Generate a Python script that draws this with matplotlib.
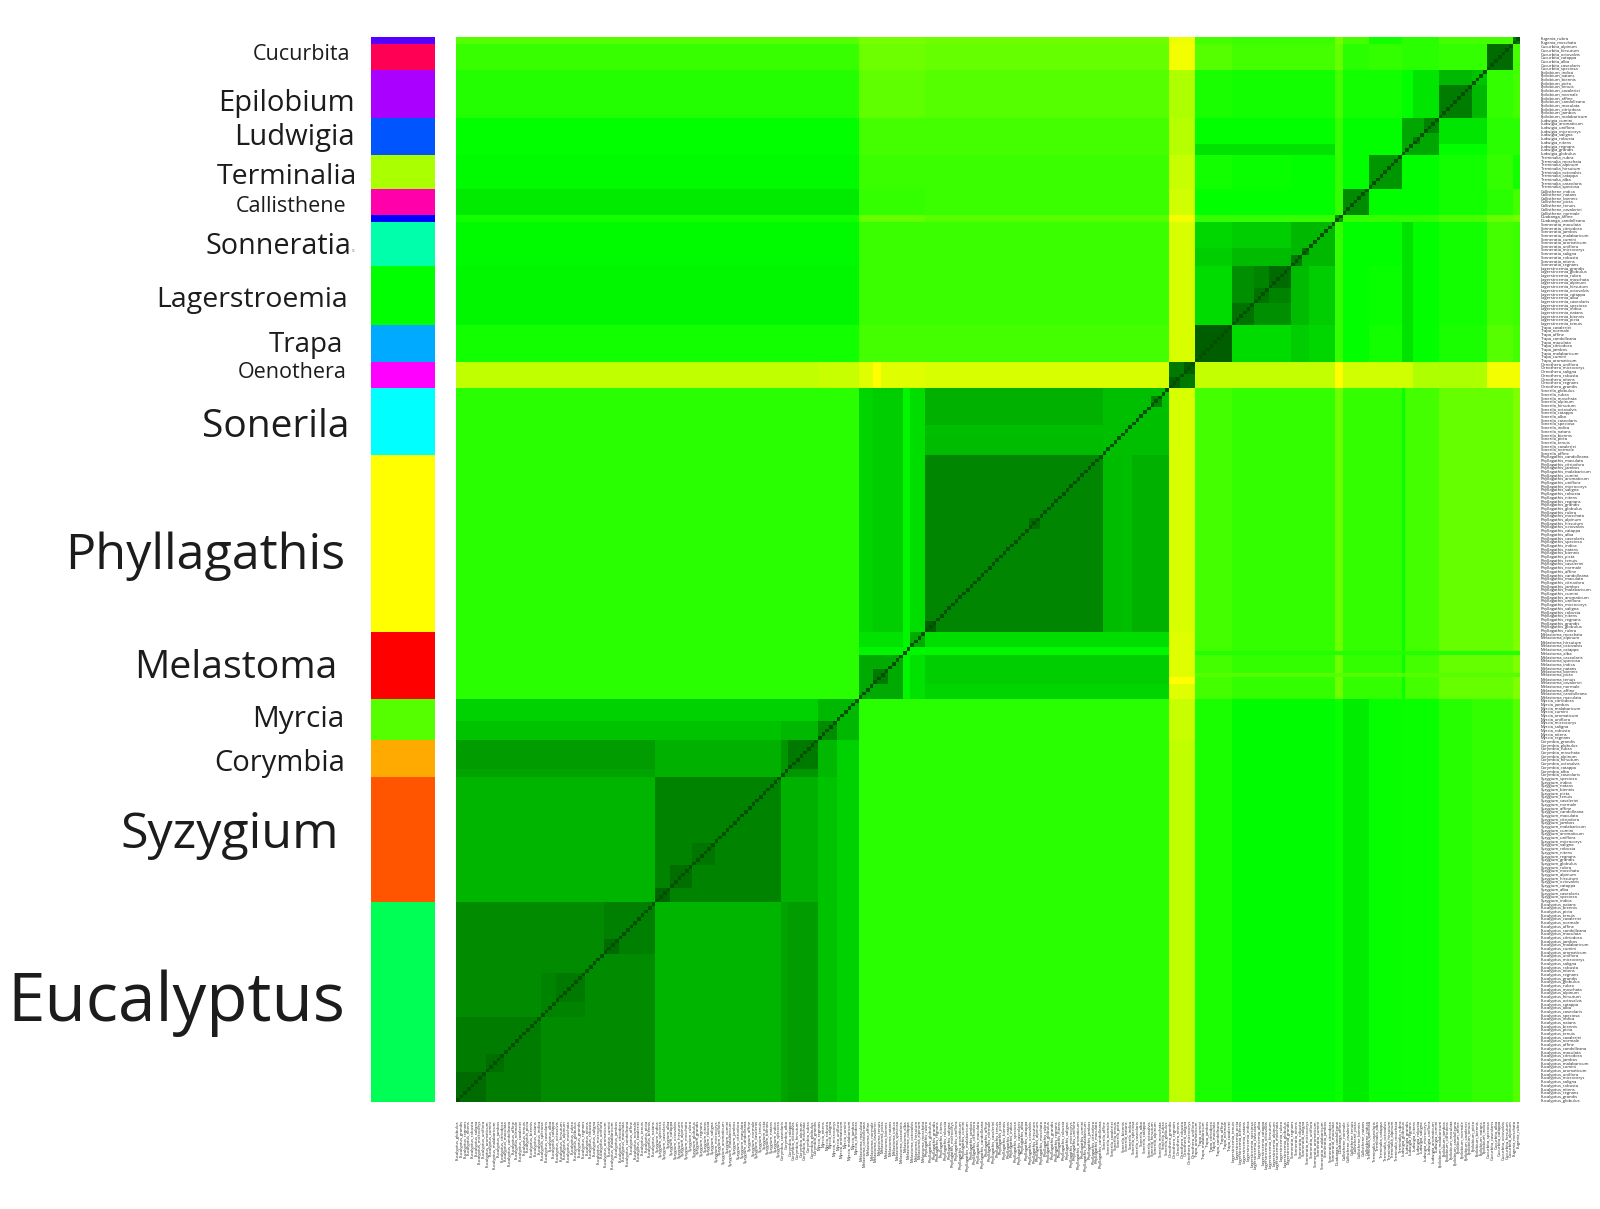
import numpy as np
import matplotlib
matplotlib.use('Agg')
import matplotlib.pyplot as plt
from matplotlib.colors import LinearSegmentedColormap

W = 1600
H = 1209

# clades from the bottom left corner up the diagonal
genera = ['Eucalyptus', 'Syzygium', 'Corymbia', 'Myrcia', 'Melastoma', 'Phyllagathis',
          'Sonerila', 'Oenothera', 'Trapa', 'Lagerstroemia', 'Sonneratia', 'Duabanga',
          'Callisthene', 'Terminalia', 'Ludwigia', 'Epilobium', 'Cucurbita', 'Eugenia']
sizes = [54, 34, 10, 11, 18, 48, 18, 7, 10, 16, 12, 2, 7, 9, 10, 13, 7, 2]
bar_colors = ['#00ff55', '#ff5500', '#ffaa00', '#55ff00', '#ff0000', '#ffff00',
              '#00ffff', '#ff00ff', '#00aaff', '#00ff00', '#00ffaa', '#0000ff',
              '#ff00aa', '#aaff00', '#0055ff', '#aa00ff', '#ff0055', '#5500ff']
epithets = ['globulus', 'grandis', 'regnans', 'nitens', 'robusta', 'saligna',
            'microcorys', 'uniflora', 'aromaticum', 'cumini', 'malabaricum', 'jambos',
            'citriodora', 'maculata', 'candolleana', 'affine', 'normale', 'cavaleriei',
            'tenuis', 'picta', 'biennis', 'natans', 'indica', 'speciosa',
            'caseolaris', 'alba', 'catappa', 'octovalvis', 'hirsutum', 'alpinum',
            'moschata', 'rubra']

# similarity between clades, lower triangle, 0 dark green .. .5 green .. 1 yellow
clade_table = [
    [.17],
    [.29, .15],
    [.22, .28, .20],
    [.33, .33, .30, .30],
    [.55, .55, .55, .55, .26],
    [.55, .55, .55, .55, .39, .16],
    [.55, .55, .55, .55, .39, .28, .32],
    [.84, .84, .84, .86, .92, .90, .90, .12],
    [.52, .52, .52, .52, .58, .58, .58, .90, .04],
    [.48, .48, .48, .48, .57, .57, .57, .90, .40, .15],
    [.49, .49, .49, .49, .57, .57, .57, .90, .38, .33, .30],
    [.52, .52, .52, .52, .62, .60, .60, .97, .56, .56, .56, .20],
    [.445, .445, .445, .445, .56, .57, .57, .88, .50, .50, .50, .56, .17],
    [.49, .49, .49, .49, .57, .57, .57, .86, .52, .51, .50, .56, .50, .20],
    [.50, .50, .50, .50, .58, .58, .58, .82, .50, .50, .50, .56, .50, .50, .25],
    [.54, .54, .54, .54, .61, .60, .60, .80, .53, .52, .52, .58, .52, .52, .43, .33],
    [.565, .565, .565, .565, .64, .62, .62, .97, .60, .58, .58, .62, .55, .56, .55, .56, .08],
    [.60, .60, .60, .60, .66, .64, .64, .95, .58, .57, .57, .65, .58, .60, .55, .58, .58, .12],
]

# finer blocks read along the diagonal: row from, row to, col from, col to, value
detail_blocks = [
    (0, 23, 0, 23, .13), (0, 8, 0, 8, .08), (8, 13, 8, 13, .09),
    (23, 35, 23, 35, .15), (27, 35, 27, 35, .12),
    (40, 54, 40, 54, .14), (40, 44, 40, 44, .08),
    (54, 58, 54, 58, .06), (58, 64, 58, 64, .09), (64, 70, 64, 70, .11),
    (88, 90, 0, 54, .24), (90, 98, 90, 98, .12),
    (98, 103, 98, 103, .17), (103, 109, 0, 98, .37), (103, 109, 103, 109, .30),
    (109, 121, 109, 121, .26), (113, 117, 113, 117, .12),
    (127, 193, 109, 121, .36), (109, 113, 127, 193, .38),
    (121, 123, 109, 193, .48), (123, 127, 127, 193, .41), (123, 127, 109, 121, .42),
    (127, 130, 127, 130, .05), (155, 158, 155, 158, .08), (175, 180, 127, 175, .31),
    (180, 183, 127, 175, .32), (183, 193, 127, 175, .28), (188, 191, 188, 191, .15),
    (193, 196, 193, 196, .05), (197, 200, 197, 200, .05), (113, 115, 193, 200, 1.0),
    (200, 210, 226, 229, .33), (200, 210, 229, 238, .44),
    (210, 216, 210, 216, .10), (216, 220, 216, 220, .10), (220, 226, 220, 226, .08),
    (210, 216, 216, 226, .18), (226, 229, 226, 229, .12), (229, 231, 229, 231, .10),
    (231, 238, 210, 226, .36), (226, 231, 210, 226, .31),
    (231, 238, 200, 210, .39), (226, 231, 200, 210, .36),
    (256, 259, 200, 238, .42), (259, 261, 259, 261, .13), (262, 266, 262, 266, .15),
    (266, 275, 266, 275, .13), (266, 275, 275, 279, .30), (266, 279, 256, 259, .50),
    (286, 288, 247, 256, .52),
]

# the matrix is not quite symmetric, these only hold on the lower right side
lower_right_blocks = [
    (0, 109, 200, 210, .53), (0, 109, 210, 238, .495), (0, 109, 238, 240, .51),
    (0, 109, 240, 247, .45), (0, 109, 247, 256, .505), (0, 109, 256, 266, .51),
    (0, 109, 266, 275, .545), (0, 109, 275, 286, .56), (0, 109, 286, 288, .60),
    (109, 193, 200, 210, .58), (109, 193, 210, 238, .56), (109, 193, 238, 240, .64),
    (109, 193, 240, 256, .56), (109, 193, 256, 257, .51), (109, 193, 257, 266, .58),
    (109, 193, 266, 286, .62), (109, 193, 286, 288, .68),
    (115, 116, 200, 288, .60), (121, 122, 200, 288, .54),
    (193, 200, 200, 238, .85), (193, 200, 238, 240, 1.0), (193, 200, 240, 259, .88),
    (193, 200, 259, 266, .80), (193, 200, 266, 276, .79), (193, 200, 276, 279, .80),
    (193, 200, 279, 288, .97),
]
self_value = 0.0

clade_starts = np.cumsum([0] + sizes)
n = clade_starts[-1]

matrix = np.zeros((n, n))
for a, row in enumerate(clade_table):
    for b, v in enumerate(row):
        matrix[clade_starts[a]:clade_starts[a+1], clade_starts[b]:clade_starts[b+1]] = v
        matrix[clade_starts[b]:clade_starts[b+1], clade_starts[a]:clade_starts[a+1]] = v
for r0, r1, c0, c1, v in detail_blocks:
    matrix[r0:r1, c0:c1] = v
    matrix[c0:c1, r0:r1] = v
for r0, r1, c0, c1, v in lower_right_blocks:
    matrix[r0:r1, c0:c1] = v
np.fill_diagonal(matrix, self_value)

labels = []
for genus, size in zip(genera, sizes):
    for k in range(size):
        labels.append('%s_%s' % (genus, epithets[len(labels) % len(epithets)]))

# label, right edge, centre, size in points
side_labels = [
    ('Cucurbita', 350, 55, 15.5), ('Epilobium', 355, 103, 21), ('Ludwigia', 355, 137, 21),
    ('Terminalia', 357, 177, 20.5), ('Callisthene', 346, 206, 15.5), ('Sonneratia', 351, 247, 20.7),
    ('Lagerstroemia', 348, 300, 20.5), ('Trapa', 343, 345, 20), ('Oenothera', 347, 372, 15.5),
    ('Sonerila', 349, 427, 28), ('Phyllagathis', 345, 556, 36.3), ('Melastoma', 337, 668, 28.3),
    ('Myrcia', 344, 720, 21.5), ('Corymbia', 345, 764, 21), ('Syzygium', 339, 835, 36.2),
    ('Eucalyptus', 345, 1003, 48.5),
]

green_map = LinearSegmentedColormap.from_list(
    'greens', [(0, '#005000'), (.5, '#00ff00'), (.62, '#66ff00'), (1, '#ffff00')])

fig = plt.figure(figsize=(W/100.0, H/100.0), dpi=100)
plt.rcParams['font.family'] = ['Open Sans', 'DejaVu Sans']

ax = fig.add_axes([456.0/W, 1-1102.0/H, 1064.0/W, 1065.0/H])
ax.imshow(matrix, origin='lower', cmap=green_map, vmin=0, vmax=1, aspect='auto',
          interpolation='nearest')
ax.yaxis.tick_right()
ax.set_yticks(np.arange(n))
ax.set_yticklabels(labels, fontsize=3, color='#222222')
ax.set_xticks(np.arange(n))
ax.set_xticklabels(labels, fontsize=3, color='#222222', rotation=90)
ax.tick_params(length=0)
ax.tick_params(axis='y', pad=15)
ax.tick_params(axis='x', pad=13)
for s in ax.spines.values():
    s.set_visible(False)

side = fig.add_axes([371.0/W, 1-1102.0/H, 64.0/W, 1065.0/H])
side.bar(np.zeros(len(sizes)), sizes, bottom=clade_starts[:-1], width=1, color=bar_colors)
side.set_xlim(-0.5, 0.5)
side.set_ylim(0, n)
side.axis('off')

for name, x, y, pt in side_labels:
    fig.text(x/float(W), 1-y/float(H), name, fontsize=pt, color='#1c1c1c', ha='right', va='center')
fig.text(354.0/W, 1-251.0/H, 's', fontsize=4, color='#777777', ha='right', va='center')

fig.savefig('out.png', dpi=100)
